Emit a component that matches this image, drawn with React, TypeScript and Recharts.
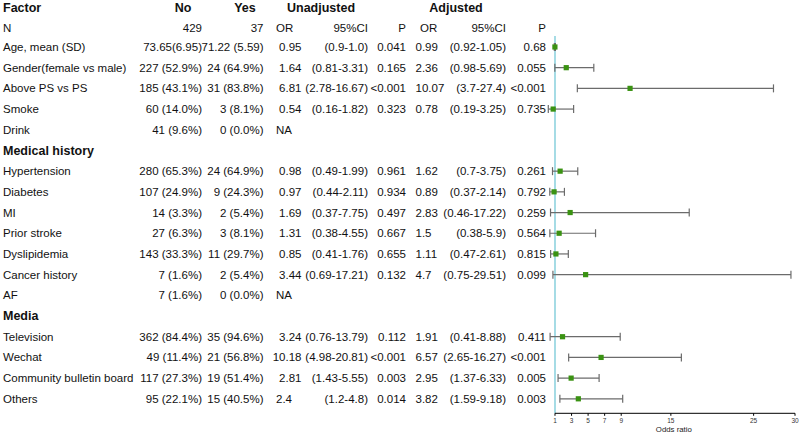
import React from 'react';
import { ComposedChart, Scatter, XAxis, YAxis, ErrorBar, ReferenceLine, Label } from 'recharts';

const factorCol = [
  'Factor', 'N', 'Age, mean (SD)', 'Gender(female vs male)', 'Above PS vs PS', 'Smoke', 'Drink',
  'Medical history', 'Hypertension', 'Diabetes', 'MI', 'Prior stroke', 'Dyslipidemia', 'Cancer history', 'AF',
  'Media', 'Television', 'Wechat', 'Community bulletin board', 'Others',
];
const noCol = [
  'No', '429', '73.65(6.95)', '227 (52.9%)', '185 (43.1%)', '60 (14.0%)', '41 (9.6%)',
  '', '280 (65.3%)', '107 (24.9%)', '14 (3.3%)', '27 (6.3%)', '143 (33.3%)', '7 (1.6%)', '7 (1.6%)',
  '', '362 (84.4%)', '49 (11.4%)', '117 (27.3%)', '95 (22.1%)',
];
const yesCol = [
  'Yes', '37', '71.22 (5.59)', '24 (64.9%)', '31 (83.8%)', '3 (8.1%)', '0 (0.0%)',
  '', '24 (64.9%)', '9 (24.3%)', '2 (5.4%)', '3 (8.1%)', '11 (29.7%)', '2 (5.4%)', '0 (0.0%)',
  '', '35 (94.6%)', '21 (56.8%)', '19 (51.4%)', '15 (40.5%)',
];
const uOrCol = [
  '', 'OR', '0.95', '1.64', '6.81', '0.54', 'NA',
  '', '0.98', '0.97', '1.69', '1.31', '0.85', '3.44', 'NA',
  '', '3.24', '10.18', '2.81', '2.4',
];
const uCiCol = [
  '', '95%CI', '(0.9-1.0)', '(0.81-3.31)', '(2.78-16.67)', '(0.16-1.82)', '',
  '', '(0.49-1.99)', '(0.44-2.11)', '(0.37-7.75)', '(0.38-4.55)', '(0.41-1.76)', '(0.69-17.21)', '',
  '', '(0.76-13.79)', '(4.98-20.81)', '(1.43-5.55)', '(1.2-4.8)',
];
const uPCol = [
  '', 'P', '0.041', '0.165', '<0.001', '0.323', '',
  '', '0.961', '0.934', '0.497', '0.667', '0.655', '0.132', '',
  '', '0.112', '<0.001', '0.003', '0.014',
];
const aOrCol = [
  '', 'OR', '0.99', '2.36', '10.07', '0.78', '',
  '', '1.62', '0.89', '2.83', '1.5', '1.11', '4.7', '',
  '', '1.91', '6.57', '2.95', '3.82',
];
const aCiCol = [
  '', '95%CI', '(0.92-1.05)', '(0.98-5.69)', '(3.7-27.4)', '(0.19-3.25)', '',
  '', '(0.7-3.75)', '(0.37-2.14)', '(0.46-17.22)', '(0.38-5.9)', '(0.47-2.61)', '(0.75-29.51)', '',
  '', '(0.41-8.88)', '(2.65-16.27)', '(1.37-6.33)', '(1.59-9.18)',
];
const aPCol = [
  '', 'P', '0.68', '0.055', '<0.001', '0.735', '',
  '', '0.261', '0.792', '0.259', '0.564', '0.815', '0.099', '',
  '', '0.411', '<0.001', '0.005', '0.003',
];
const groupHeaders = ['Unadjusted', 'Adjusted'];
const sectionRows = [7, 15];

const adjOR = [null, null, 0.99, 2.36, 10.07, 0.78, null, null, 1.62, 0.89, 2.83, 1.5, 1.11, 4.7, null, null, 1.91, 6.57, 2.95, 3.82];
const adjLo = [null, null, 0.92, 0.98, 3.7, 0.19, null, null, 0.7, 0.37, 0.46, 0.38, 0.47, 0.75, null, null, 0.41, 2.65, 1.37, 1.59];
const adjHi = [null, null, 1.05, 5.69, 27.4, 3.25, null, null, 3.75, 2.14, 17.22, 5.9, 2.61, 29.51, null, null, 8.88, 16.27, 6.33, 9.18];

const xTicks = [1, 3, 5, 7, 9, 15, 25, 30];
const rowTicks = factorCol.map((_, i) => i);

const points = adjOR
  .map((v, i) => (v == null ? null : { row: i, or: v, err: [v - (adjLo[i] as number), (adjHi[i] as number) - v] }))
  .filter((p) => p != null);

const FONT = '"Liberation Sans", Arial, sans-serif';

const TableRow = (props: any) => {
  const { y, payload } = props;
  const i = payload.value as number;
  const head = i === 0;
  const section = sectionRows.includes(i);
  const yy = y + (i <= 1 ? 2 : 0);
  const base = { fontFamily: FONT, fill: '#111', dy: '0.35em' };
  const fs = 11.5;
  const bold = { fontSize: 12.5, fontWeight: 700 };
  const norm = { fontSize: fs };
  if (head) {
    return (
      <g>
        <text x={3} y={yy} {...base} {...bold} textAnchor="start">{factorCol[i]}</text>
        <text x={183} y={yy} {...base} {...bold} textAnchor="middle">{noCol[i]}</text>
        <text x={245} y={yy} {...base} {...bold} textAnchor="middle">{yesCol[i]}</text>
        <text x={321} y={yy} {...base} {...bold} textAnchor="middle">{groupHeaders[0]}</text>
        <text x={456} y={yy} {...base} {...bold} textAnchor="middle">{groupHeaders[1]}</text>
      </g>
    );
  }
  if (section) {
    return (
      <g>
        <text x={3} y={yy} {...base} {...bold} textAnchor="start">{factorCol[i]}</text>
      </g>
    );
  }
  const uor = uOrCol[i];
  const uorLong = uor.length >= 4;
  return (
    <g>
      <text x={3} y={yy} {...base} {...norm} textAnchor="start">{factorCol[i]}</text>
      <text x={202} y={yy} {...base} {...norm} textAnchor="end">{noCol[i]}</text>
      <text x={263.5} y={yy} {...base} {...norm} textAnchor="end">{yesCol[i]}</text>
      <text x={uorLong ? 301.5 : 276} y={yy} {...base} {...norm} textAnchor={uorLong ? 'end' : 'start'}>{uor}</text>
      <text x={368} y={yy} {...base} {...norm} textAnchor="end">{uCiCol[i]}</text>
      <text x={406} y={yy} {...base} {...norm} textAnchor="end">{uPCol[i]}</text>
      <text x={i === 1 ? 420 : 415.5} y={yy} {...base} {...norm} textAnchor="start">{aOrCol[i]}</text>
      <text x={506} y={yy} {...base} {...norm} textAnchor="end">{aCiCol[i]}</text>
      <text x={546} y={yy} {...base} {...norm} textAnchor="end">{aPCol[i]}</text>
    </g>
  );
};

const XTick = (props: any) => {
  const { x, y, payload } = props;
  return (
    <text x={x} y={y} dy="0.71em" textAnchor="middle" fontSize={6.5} fontFamily={FONT} fill="#333">
      {payload.value}
    </text>
  );
};

const Square = (props: any) => {
  const { cx, cy } = props;
  return <rect x={cx - 2.6} y={cy - 2.6} width={5.2} height={5.2} fill="#3a9212" />;
};

export default function App() {
  const yMin = -0.27;
  const yMax = 19.7;
  return (
    <div style={{ position: 'absolute', left: 0, top: 0, width: 800, height: 433, background: '#fff' }}>
      <ComposedChart width={800} height={433} margin={{ top: 0, right: 5, bottom: 0, left: 0 }}>
        <XAxis
          type="number"
          dataKey="or"
          domain={[0, 30]}
          ticks={xTicks}
          interval={0}
          axisLine={false}
          tickLine={{ stroke: '#000', strokeWidth: 1 }}
          tickSize={2.5}
          tickMargin={2.5}
          tick={<XTick />}
          height={19.7}
        >
          <Label value="Odds ratio" position="insideBottom" offset={1} dx={3} fontSize={7.8} fontFamily={FONT} fill="#222" />
        </XAxis>
        <YAxis
          type="number"
          dataKey="row"
          domain={[yMin, yMax]}
          reversed
          ticks={rowTicks}
          interval={0}
          axisLine={false}
          tickLine={false}
          width={546.72}
          tick={<TableRow />}
        />
        <ReferenceLine
          segment={[{ x: 1, y: 1.469 }, { x: 1, y: yMax }]}
          stroke="#8fd3df"
          strokeWidth={1.6}
          ifOverflow="visible"
        />
        <ReferenceLine
          segment={[{ x: 1, y: yMax }, { x: 30, y: yMax }]}
          stroke="#000"
          strokeWidth={1}
          ifOverflow="visible"
        />
        <Scatter data={points} dataKey="row" shape={<Square />} isAnimationActive={false}>
          <ErrorBar dataKey="err" direction="x" width={4} stroke="#6b6b6b" strokeWidth={1.2} />
        </Scatter>
      </ComposedChart>
    </div>
  );
}
